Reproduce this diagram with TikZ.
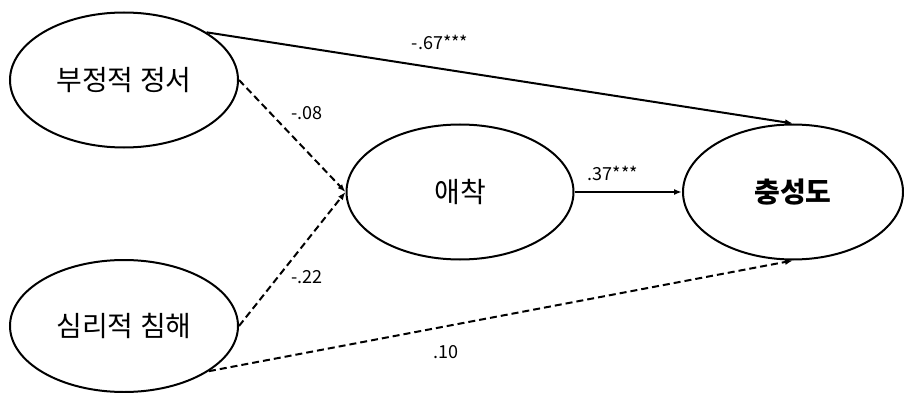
\documentclass[tikz,border=0pt]{standalone}
\usepackage{fontspec}
\setmainfont{Noto Sans CJK KR}
\usetikzlibrary{shapes.geometric,arrows.meta}
\begin{document}
\begin{tikzpicture}[x=1pt,y=-1pt,
  latent/.style={draw,ellipse,line width=2pt,inner sep=0pt,font=\fontsize{28}{32}\selectfont},
  path/.style={line width=2pt,-{Latex[length=8pt,width=6pt]}},
  ns/.style={path,dash pattern=on 7pt off 4pt},
  coef/.style={font=\fontsize{18}{21}\selectfont}]
\useasboundingbox (0,0) rectangle (904,393);
\node[latent,minimum width=228pt,minimum height=135pt] (neg) at (124,80) {부정적 정서};
\node[latent,minimum width=228pt,minimum height=132pt] (psy) at (124,326) {심리적 침해};
\node[latent,minimum width=227pt,minimum height=135pt] (att) at (460,192) {애착};
\node[latent,minimum width=220pt,minimum height=135pt,font=\fontsize{28}{32}\selectfont\bfseries] (loy) at (793,192) {충성도};
\draw[path] (neg.30.6) -- (loy.north);
\draw[ns] (neg.east) -- (att.west);
\draw[ns] (psy.east) -- (att.west);
\draw[ns] (psy.-28.7) -- (loy.south);
\draw[path] (att.east) -- (loy.west);
\node[coef] (c1) at (440,42) {-.67***};
\node[coef] (c2) at (307,113) {-.08};
\node[coef] (c3) at (307,277) {-.22};
\node[coef] (c4) at (446,352) {.10};
\node[coef] (c5) at (613,173) {.37***};
\end{tikzpicture}
\end{document}
